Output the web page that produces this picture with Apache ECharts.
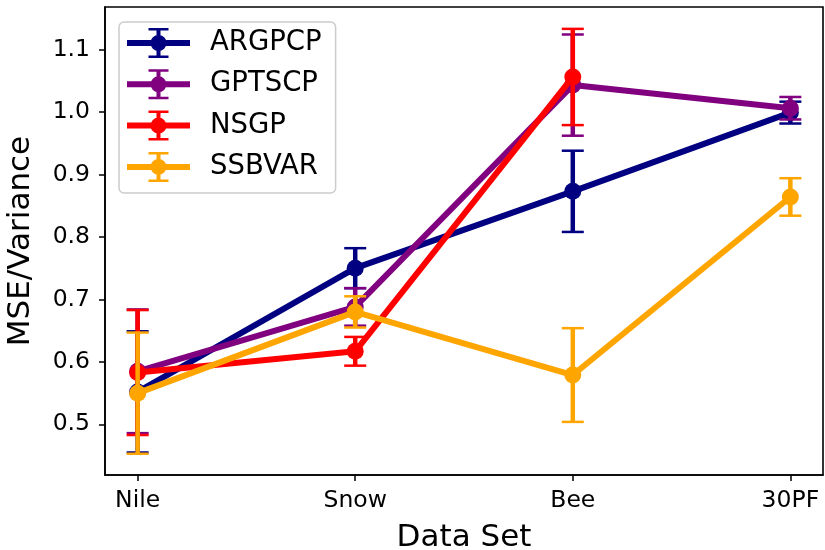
<!DOCTYPE html>
<html>
<head>
<meta charset="utf-8">
<script src="https://cdn.jsdelivr.net/npm/echarts@6/dist/echarts.min.js"></script>
<style>
  html, body { margin: 0; padding: 0; background: #fff; }
  #chart { width: 825px; height: 550px; }
</style>
</head>
<body>
<div id="chart"></div>
<script>
// Data sets on the x axis and the methods compared
const datasets = ['Nile', 'Snow', 'Bee', '30PF'];
const methods = ['ARGPCP', 'GPTSCP', 'NSGP', 'SSBVAR'];
const colors = ['#000080', '#800080', '#ff0000', '#ffa500'];

// Mean MSE/Variance per data set and the error-bar half width
const argpcpMean = [0.552, 0.750, 0.873, 0.999];
const argpcpErr  = [0.097, 0.032, 0.065, 0.0175];
const gptscpMean = [0.585, 0.688, 1.043, 1.006];
const gptscpErr  = [0.099, 0.030, 0.081, 0.018];
const nsgpMean   = [0.583, 0.617, 1.056, null];
const nsgpErr    = [0.100, 0.023, 0.077, null];
const ssbvarMean = [0.550, 0.680, 0.579, 0.864];
const ssbvarErr  = [0.097, 0.025, 0.075, 0.030];

const yTicks = [0.5, 0.6, 0.7, 0.8, 0.9, 1.0, 1.1];
const xTicks = [0, 1, 2, 3];

const means = [argpcpMean, gptscpMean, nsgpMean, ssbvarMean];
const errs = [argpcpErr, gptscpErr, nsgpErr, ssbvarErr];

const FONT = 'DejaVu Sans';

// Legend handle: line, marker and error bar in one path
const legendIcon = 'path://' +
  'M0 12H63V18H0Z' +
  'M29.5 1H33.5V29H29.5Z' +
  'M21.5 0H41.5V2.5H21.5Z' +
  'M21.5 27.5H41.5V30H21.5Z' +
  'M23.5 15A8 8 0 1 1 39.5 15A8 8 0 1 1 23.5 15Z';

const series = [];
methods.forEach((name, k) => {
  const color = colors[k];
  const points = means[k]
    .map((v, i) => (v == null ? null : [i, v, errs[k][i]]))
    .filter(Boolean);

  // vertical error bars with caps
  series.push({
    type: 'custom',
    name: name + ' error',
    z: 2 + 2 * k,
    silent: true,
    data: points,
    encode: { x: 0, y: 1 },
    renderItem(params, api) {
      const x = api.value(0), y = api.value(1), e = api.value(2);
      const top = api.coord([x, y + e]);
      const bot = api.coord([x, y - e]);
      const w = 11;
      return {
        type: 'group',
        children: [
          { type: 'line', shape: { x1: top[0], y1: top[1], x2: bot[0], y2: bot[1] },
            style: { stroke: color, lineWidth: 4.5 } },
          { type: 'line', shape: { x1: top[0] - w, y1: top[1], x2: top[0] + w, y2: top[1] },
            style: { stroke: color, lineWidth: 2.5 } },
          { type: 'line', shape: { x1: bot[0] - w, y1: bot[1], x2: bot[0] + w, y2: bot[1] },
            style: { stroke: color, lineWidth: 2.5 } }
        ]
      };
    }
  });

  // mean line with circular markers
  series.push({
    type: 'line',
    name: name,
    z: 3 + 2 * k,
    silent: true,
    data: points.map(p => [p[0], p[1]]),
    symbol: 'circle',
    symbolSize: 17,
    showAllSymbol: true,
    color: color,
    lineStyle: { width: 6, color: color },
    itemStyle: { color: color, borderWidth: 0 },
    emphasis: { disabled: true }
  });
});

const chart = echarts.init(document.getElementById('chart'), null, { renderer: 'canvas' });
chart.setOption({
  animation: false,
  backgroundColor: '#fff',
  grid: {
    left: 105, right: 2, top: 7, bottom: 75,
    show: true, borderColor: '#000', borderWidth: 1.6,
    containLabel: false, outerBoundsMode: 'none'
  },
  legend: {
    orient: 'vertical',
    left: 119, top: 22,
    data: methods.map(n => ({ name: n, icon: legendIcon })),
    itemWidth: 63, itemHeight: 30, itemGap: 11.3,
    padding: [6, 14, 11, 8],
    backgroundColor: 'rgba(255,255,255,0.85)',
    borderColor: '#cccccc', borderWidth: 1.5, borderRadius: 5,
    selectedMode: false,
    itemStyle: { borderWidth: 0 },
    textStyle: { fontFamily: FONT, fontSize: 27.5, color: '#000', padding: [0, 0, 0, 15] }
  },
  xAxis: {
    type: 'value',
    min: -0.15, max: 3.15,
    name: 'Data Set',
    nameLocation: 'middle',
    nameGap: 47,
    nameTextStyle: { fontFamily: FONT, fontSize: 31, color: '#000' },
    axisLine: { show: true, onZero: false, lineStyle: { color: '#000', width: 1.6 } },
    axisTick: { show: true, customValues: xTicks, length: 6, inside: false,
                lineStyle: { color: '#000', width: 1.5 } },
    axisLabel: { customValues: xTicks, formatter: v => datasets[Math.round(v)],
                 fontFamily: FONT, fontSize: 23.5, color: '#000', margin: 14 },
    splitLine: { show: false }
  },
  yAxis: {
    type: 'value',
    min: 0.419, max: 1.168,
    name: 'MSE/Variance',
    nameLocation: 'middle',
    nameGap: 69,
    nameTextStyle: { fontFamily: FONT, fontSize: 31, color: '#000' },
    axisLine: { show: true, onZero: false, lineStyle: { color: '#000', width: 1.6 } },
    axisTick: { show: true, customValues: yTicks, length: 6, inside: false,
                lineStyle: { color: '#000', width: 1.5 } },
    axisLabel: { customValues: yTicks, formatter: v => v.toFixed(1),
                 fontFamily: FONT, fontSize: 23.5, color: '#000', margin: 15 },
    splitLine: { show: false }
  },
  series: series
});
</script>
</body>
</html>
